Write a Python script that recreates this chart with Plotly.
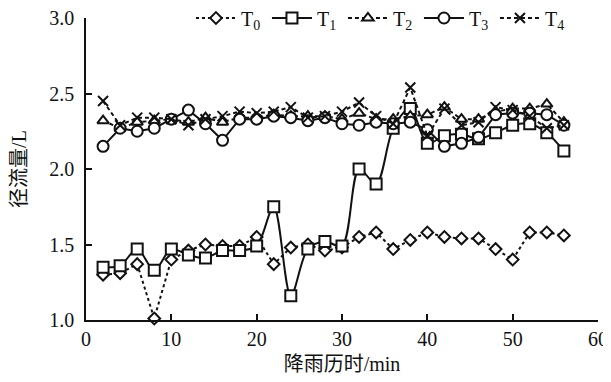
import plotly.graph_objects as go

time_min = [2, 4, 6, 8, 10, 12, 14, 16, 18, 20, 22, 24, 26, 28,
            30, 32, 34, 36, 38, 40, 42, 44, 46, 48, 50, 52, 54, 56]

T0 = [1.30, 1.31, 1.37, 1.01, 1.40, 1.46, 1.50, 1.49, 1.49, 1.55, 1.37, 1.48, 1.50, 1.46,
      1.48, 1.55, 1.58, 1.47, 1.53, 1.58, 1.55, 1.54, 1.54, 1.47, 1.40, 1.58, 1.58, 1.56]
T1 = [1.35, 1.36, 1.47, 1.33, 1.47, 1.43, 1.41, 1.46, 1.46, 1.49, 1.75, 1.16, 1.47, 1.52,
      1.49, 2.00, 1.90, 2.27, 2.40, 2.17, 2.22, 2.23, 2.20, 2.24, 2.29, 2.30, 2.24, 2.12]
T2 = [2.32, 2.27, 2.31, 2.32, 2.33, 2.31, 2.34, 2.31, 2.34, 2.34, 2.36, 2.35, 2.35, 2.35,
      2.33, 2.37, 2.33, 2.33, 2.35, 2.36, 2.41, 2.33, 2.33, 2.38, 2.40, 2.40, 2.43, 2.31]
T3 = [2.15, 2.27, 2.25, 2.27, 2.33, 2.39, 2.30, 2.19, 2.33, 2.33, 2.35, 2.34, 2.32, 2.34,
      2.30, 2.29, 2.31, 2.30, 2.31, 2.26, 2.15, 2.17, 2.21, 2.36, 2.37, 2.37, 2.36, 2.29]
T4 = [2.45, 2.29, 2.34, 2.34, 2.33, 2.29, 2.33, 2.35, 2.38, 2.37, 2.38, 2.41, 2.34, 2.35,
      2.38, 2.44, 2.35, 2.30, 2.54, 2.22, 2.40, 2.29, 2.31, 2.41, 2.39, 2.35, 2.27, 2.29]

names = ["T<sub>0</sub>", "T<sub>1</sub>", "T<sub>2</sub>", "T<sub>3</sub>", "T<sub>4</sub>"]

FONT = "Liberation Serif, Noto Sans CJK SC, serif"
BLACK = "#111111"

fig = go.Figure()

series = [
    (T0, names[0], "diamond", "3px,3px", 9, "linear", "white"),
    (T1, names[1], "square", "solid", 11, "spline", "white"),
    (T2, names[2], "triangle-up", "4px,3px", 10, "linear", "white"),
    (T3, names[3], "circle", "solid", 11, "linear", "white"),
    (T4, names[4], "x-thin", "4px,3px", 10, "linear", BLACK),
]

for vals, name, sym, dash, size, shape, fillc in series:
    fig.add_trace(go.Scatter(
        x=time_min, y=vals, name=name, mode="lines+markers",
        line=dict(color=BLACK, width=2, dash=dash, shape=shape, smoothing=0.9),
        marker=dict(symbol=sym, size=size, color=fillc,
                    line=dict(color=BLACK, width=2)),
        cliponaxis=False,
    ))

# page body has an 8px default margin, so the figure is sized to fit the window
fig.update_layout(
    width=603, height=374,
    margin=dict(l=78, r=13, t=10, b=62, autoexpand=False),
    paper_bgcolor="white", plot_bgcolor="white",
    font=dict(family=FONT, size=20, color=BLACK),
    showlegend=True,
    legend=dict(orientation="h", x=0.205, y=1.0, xanchor="left", yanchor="middle",
                bgcolor="rgba(0,0,0,0)", font=dict(size=20, family=FONT),
                itemwidth=40, entrywidth=21, entrywidthmode="pixels",
                tracegroupgap=0),
    xaxis=dict(range=[0, 60], dtick=10, tick0=0, showgrid=False, zeroline=False,
               automargin=False, ticklabeloverflow="allow",
               showline=True, linecolor=BLACK, linewidth=1.5,
               ticks="inside", ticklen=6, tickcolor=BLACK, tickwidth=1.5,
               tickfont=dict(size=20, family=FONT),
               title=dict(text="降雨历时/min", font=dict(size=20, family=FONT), standoff=8)),
    yaxis=dict(range=[1.0, 3.0], dtick=0.5, tick0=1.0, tickformat=".1f",
               showgrid=False, zeroline=False, automargin=False,
               ticklabeloverflow="allow",
               showline=True, linecolor=BLACK, linewidth=1.5,
               ticks="inside", ticklen=6, tickcolor=BLACK, tickwidth=1.5,
               ticklabelstandoff=6,
               tickfont=dict(size=20, family=FONT),
               title=dict(text="径流量/L", font=dict(size=20, family=FONT), standoff=22)),
)

fig.write_html("out.html")
